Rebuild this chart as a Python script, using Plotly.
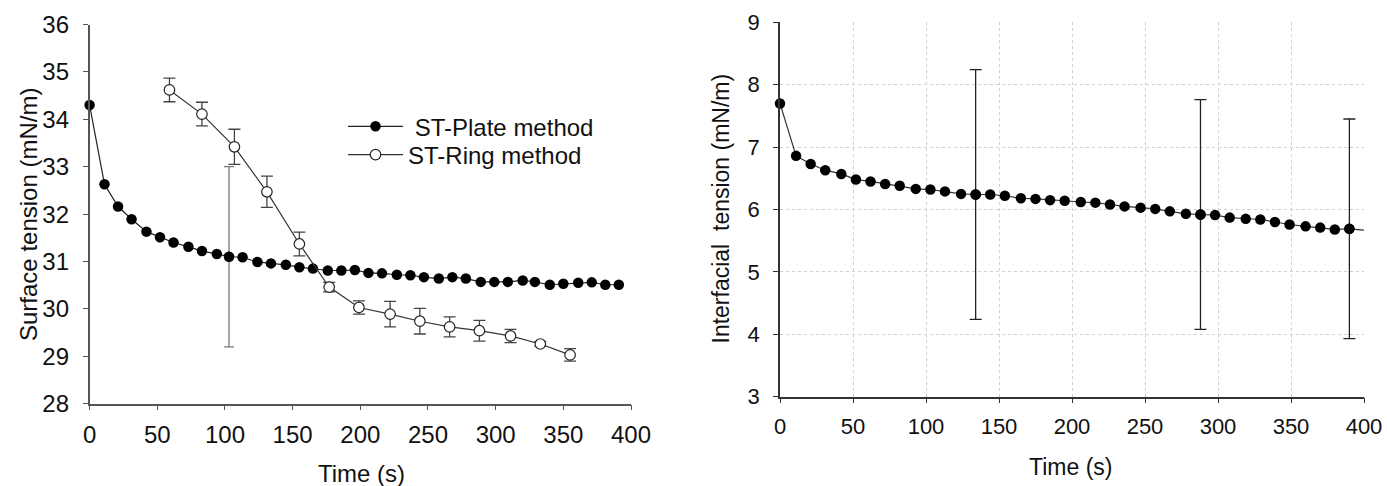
import plotly.graph_objects as go

# ---- Surface tension, Wilhelmy plate (time in s, mN/m) ----
plate_t = [0, 11, 21, 31, 42, 52, 62, 73, 83, 94, 103, 113, 124, 134, 145, 155, 165, 176, 186, 196,
           206, 216, 227, 237, 247, 258, 268, 278, 289, 299, 309, 320, 329, 340, 350, 361, 371, 381, 391]
plate_st = [34.30, 32.63, 32.16, 31.89, 31.63, 31.51, 31.40, 31.31, 31.22, 31.16, 31.10, 31.09, 30.99,
            30.96, 30.93, 30.88, 30.85, 30.81, 30.81, 30.82, 30.76, 30.75, 30.72, 30.71, 30.67, 30.64,
            30.67, 30.64, 30.57, 30.57, 30.57, 30.60, 30.57, 30.51, 30.53, 30.55, 30.56, 30.51, 30.51]
plate_err_t = [103]
plate_err_st = [31.10]
plate_err = [1.90]

# ---- Surface tension, du Noüy ring ----
ring_t = [59, 83, 107, 131, 155, 177, 199, 222, 244, 266, 288, 311, 333, 355]
ring_st = [34.62, 34.11, 33.42, 32.47, 31.37, 30.46, 30.03, 29.89, 29.74, 29.62, 29.54, 29.43, 29.26, 29.03]
ring_err = [0.25, 0.25, 0.37, 0.33, 0.25, 0.10, 0.14, 0.27, 0.27, 0.21, 0.22, 0.14, 0.05, 0.13]

# ---- Interfacial tension ----
ift_t = [0, 11, 21, 31, 42, 52, 62, 72, 82, 93, 103, 113, 124, 134, 144, 154, 165, 175, 185, 195,
         206, 216, 226, 236, 247, 257, 267, 278, 288, 298, 308, 319, 329, 339, 349, 360, 370, 380, 390]
ift = [7.70, 6.86, 6.73, 6.63, 6.57, 6.48, 6.45, 6.41, 6.38, 6.33, 6.32, 6.29, 6.25, 6.24, 6.24, 6.22,
       6.18, 6.17, 6.15, 6.14, 6.12, 6.11, 6.08, 6.05, 6.03, 6.01, 5.97, 5.93, 5.92, 5.91, 5.87, 5.85,
       5.84, 5.80, 5.76, 5.73, 5.71, 5.68, 5.69]
ift_tail_t = [390, 400]
ift_tail = [5.69, 5.67]
ift_err_t = [134, 288, 390]
ift_err_val = [6.24, 5.92, 5.69]
ift_err = [2.00, 1.84, 1.76]

x_ticks = [0, 50, 100, 150, 200, 250, 300, 350, 400]
st_ticks = [28, 29, 30, 31, 32, 33, 34, 35, 36]
ift_ticks = [3, 4, 5, 6, 7, 8, 9]

W, H = 1387, 486
FONT = "Liberation Sans, Arial, sans-serif"


def px_x(p):
    return p / W


def px_y(p):
    return 1 - p / H


fig = go.Figure()

# left panel
fig.add_trace(go.Scatter(
    x=plate_err_t, y=plate_err_st, mode="markers", showlegend=False,
    marker=dict(size=10, color="black"),
    error_y=dict(type="data", array=plate_err, color="#777777", thickness=1.3, width=5),
    xaxis="x", yaxis="y", cliponaxis=False))
fig.add_trace(go.Scatter(
    x=plate_t, y=plate_st, mode="lines+markers", name=" ST-Plate method",
    line=dict(color="#222222", width=1.2),
    marker=dict(size=10.5, color="black"),
    xaxis="x", yaxis="y", legend="legend", cliponaxis=False))
fig.add_trace(go.Scatter(
    x=ring_t, y=ring_st, mode="lines+markers", name="ST-Ring method",
    line=dict(color="#333333", width=1.2),
    marker=dict(size=10.5, color="white", line=dict(color="#222222", width=1.2)),
    error_y=dict(type="data", array=ring_err, color="#444444", thickness=1.3, width=6),
    xaxis="x", yaxis="y", legend="legend2", cliponaxis=False))

# right panel
fig.add_trace(go.Scatter(
    x=ift_err_t, y=ift_err_val, mode="markers", showlegend=False,
    marker=dict(size=10.5, color="black"),
    error_y=dict(type="data", array=ift_err, color="#222222", thickness=1.3, width=6),
    xaxis="x2", yaxis="y2", cliponaxis=False))
fig.add_trace(go.Scatter(
    x=ift_tail_t, y=ift_tail, mode="lines", showlegend=False,
    line=dict(color="#333333", width=1.2), xaxis="x2", yaxis="y2", cliponaxis=False))
fig.add_trace(go.Scatter(
    x=ift_t, y=ift, mode="lines+markers", showlegend=False,
    line=dict(color="#333333", width=1.2),
    marker=dict(size=10.5, color="black"),
    xaxis="x2", yaxis="y2", cliponaxis=False))

tick_font = dict(family=FONT, size=24, color="#111111")
tick_font_r = dict(family=FONT, size=22, color="#111111")

fig.update_layout(
    width=W, height=H,
    margin=dict(l=0, r=0, t=0, b=0),
    paper_bgcolor="white", plot_bgcolor="white",
    font=dict(family=FONT, color="#111111"),
    xaxis=dict(domain=[px_x(89.6), px_x(631)], range=[0, 400], tickvals=x_ticks,
               showgrid=False, zeroline=False, showline=True, linecolor="#555555", linewidth=1.5,
               ticks="outside", ticklen=5, tickcolor="#555555", tickfont=tick_font,
               anchor="y", automargin=False, ticklabelstandoff=4),
    yaxis=dict(domain=[px_y(403.7), px_y(24.5)], range=[28, 36], tickvals=st_ticks,
               showgrid=False, zeroline=False, showline=True, linecolor="#555555", linewidth=1.5,
               ticks="outside", ticklen=5, tickcolor="#555555", tickfont=tick_font,
               anchor="x", automargin=False, ticklabelstandoff=9),
    xaxis2=dict(domain=[px_x(780), px_x(1364)], range=[0, 400], tickvals=x_ticks,
                showgrid=True, gridcolor="#d0d0d0", griddash="dot", gridwidth=1,
                zeroline=False, showline=True, linecolor="#333333", linewidth=1.5,
                ticks="outside", ticklen=5, tickcolor="#333333", tickfont=tick_font_r,
                anchor="y2", automargin=False, ticklabelstandoff=4),
    yaxis2=dict(domain=[px_y(396.7), px_y(22.3)], range=[3, 9], tickvals=ift_ticks,
                showgrid=True, gridcolor="#d0d0d0", griddash="dot", gridwidth=1,
                zeroline=False, showline=True, linecolor="#333333", linewidth=1.5,
                ticks="outside", ticklen=5, tickcolor="#333333", tickfont=tick_font_r,
                anchor="x2", automargin=False, ticklabelstandoff=9),
    legend=dict(x=px_x(343), y=px_y(126.7), xanchor="left", yanchor="middle",
                font=dict(family=FONT, size=24, color="#111111"), itemwidth=55,
                bgcolor="rgba(0,0,0,0)", borderwidth=0),
    legend2=dict(x=px_x(343), y=px_y(155), xanchor="left", yanchor="middle",
                 font=dict(family=FONT, size=24, color="#111111"), itemwidth=55,
                 bgcolor="rgba(0,0,0,0)", borderwidth=0),
    annotations=[
        dict(text="Surface tension (mN/m)", x=px_x(28), y=px_y(215), xref="paper", yref="paper",
             showarrow=False, textangle=-90, font=dict(size=24), xanchor="center", yanchor="middle"),
        dict(text="Time (s)", x=px_x(361), y=px_y(473), xref="paper", yref="paper",
             showarrow=False, font=dict(size=24), xanchor="center", yanchor="middle"),
        dict(text="Interfacial  tension (mN/m)", x=px_x(720), y=px_y(208.5), xref="paper", yref="paper",
             showarrow=False, textangle=-90, font=dict(size=23), xanchor="center", yanchor="middle"),
        dict(text="Time (s)", x=px_x(1070), y=px_y(467), xref="paper", yref="paper",
             showarrow=False, font=dict(size=23), xanchor="center", yanchor="middle"),
    ],
)

fig.write_html("out.html")
